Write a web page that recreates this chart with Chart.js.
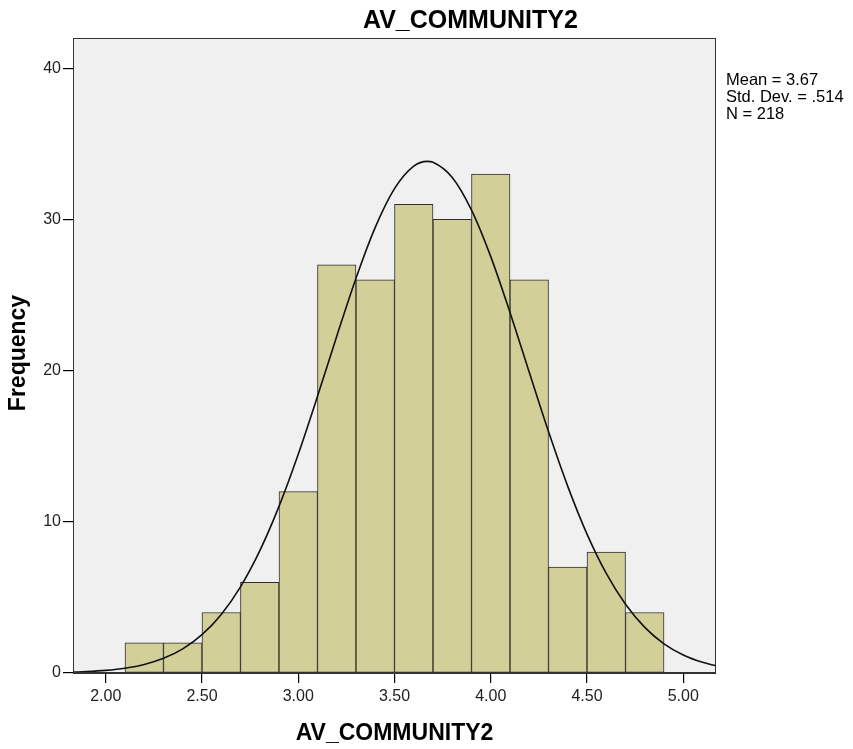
<!DOCTYPE html>
<html>
<head>
<meta charset="utf-8">
<script src="https://cdn.jsdelivr.net/npm/chart.js@4.4.1/dist/chart.umd.min.js"></script>
<style>
  html, body { margin: 0; padding: 0; background: #ffffff; }
  #wrap { width: 853px; height: 749px; position: relative; }
</style>
</head>
<body>
<div id="wrap"><canvas id="c" width="853" height="749"></canvas></div>
<script>
// ---- data ----
const chartTitle = "AV_COMMUNITY2";
const xAxisTitle = "AV_COMMUNITY2";
const yAxisTitle = "Frequency";
const statsLines = ["Mean = 3.67", "Std. Dev. = .514", "N = 218"];

const binCenters = [2.2, 2.4, 2.6, 2.8, 3.0, 3.2, 3.4, 3.6, 3.8, 4.0, 4.2, 4.4, 4.6, 4.8];
const binCounts  = [2, 2, 4, 6, 12, 27, 26, 31, 30, 33, 26, 7, 8, 4];

const curveX = [1.83, 1.9, 2.0, 2.1, 2.2, 2.3, 2.4, 2.5, 2.6, 2.7, 2.8, 2.9, 3.0, 3.1, 3.2, 3.3, 3.4, 3.5, 3.6, 3.67,
                3.7, 3.8, 3.9, 4.0, 4.1, 4.2, 4.3, 4.4, 4.5, 4.6, 4.7, 4.8, 4.9, 5.0, 5.1, 5.17];
const curveY = [0.056, 0.090, 0.173, 0.319, 0.567, 0.970, 1.599, 2.537, 3.876, 5.702, 8.078, 11.019, 14.470, 18.297,
                22.278, 26.115, 29.478, 32.039, 33.528, 33.840, 33.782, 32.775, 30.616, 27.538, 23.848, 19.886,
                15.966, 12.344, 9.188, 6.585, 4.544, 3.019, 1.932, 1.190, 0.706, 0.479];

const xTicks = [2.0, 2.5, 3.0, 3.5, 4.0, 4.5, 5.0];
const yTicks = [0, 10, 20, 30, 40];
const xMin = 1.83, xMax = 5.17;
const yMin = 0, yMax = 42;

// ---- chart ----
const FONT = "'Liberation Sans', Arial, sans-serif";

const bgPlugin = {
  id: 'plotBg',
  beforeDraw(chart) {
    const a = chart.chartArea, ctx = chart.ctx;
    ctx.save();
    ctx.fillStyle = '#f0f0f0';
    ctx.fillRect(a.left, a.top, a.right - a.left, a.bottom - a.top);
    ctx.restore();
  },
  afterDraw(chart) {
    const a = chart.chartArea, ctx = chart.ctx;
    ctx.save();
    ctx.strokeStyle = '#333333';
    ctx.lineWidth = 1;
    ctx.strokeRect(Math.round(a.left) + 0.5, Math.round(a.top) + 0.5,
                   Math.round(a.right - a.left) - 1, Math.round(a.bottom - a.top) - 1);
    const cx = (a.left + a.right) / 2;
    ctx.fillStyle = '#000000';
    ctx.textBaseline = 'alphabetic';

    ctx.font = "bold 25px " + FONT;
    ctx.textAlign = 'left';
    ctx.fillText(chartTitle, 363, 28);

    ctx.font = "bold 23px " + FONT;
    ctx.textAlign = 'center';
    ctx.fillText(xAxisTitle, cx, 740);

    ctx.save();
    ctx.translate(25, 353);
    ctx.rotate(-Math.PI / 2);
    ctx.textAlign = 'center';
    ctx.fillText(yAxisTitle, 0, 0);
    ctx.restore();

    ctx.font = "16.5px " + FONT;
    ctx.textAlign = 'left';
    ctx.textBaseline = 'middle';
    statsLines.forEach((s, i) => ctx.fillText(s, 726, 80 + i * 17));
    ctx.restore();
  }
};

new Chart(document.getElementById('c'), {
  data: {
    datasets: [
      {
        type: 'line',
        order: 0,
        data: curveX.map((x, i) => ({ x: x, y: curveY[i] })),
        borderColor: '#111111',
        borderWidth: 1.6,
        pointRadius: 0,
        cubicInterpolationMode: 'monotone',
        fill: false
      },
      {
        type: 'bar',
        order: 1,
        data: binCenters.map((x, i) => ({ x: x, y: binCounts[i] })),
        backgroundColor: '#d3cf98',
        borderColor: '#2e2e2e',
        borderWidth: 1,
        borderSkipped: false,
        barPercentage: 1.0,
        categoryPercentage: 1.0
      }
    ]
  },
  options: {
    responsive: false,
    animation: false,
    layout: { padding: { top: 38, right: 137, left: 0, bottom: 0 } },
    plugins: { legend: { display: false }, tooltip: { enabled: false }, title: { display: false } },
    scales: {
      x: {
        type: 'linear',
        offset: false,
        min: xMin, max: xMax,
        afterBuildTicks(scale) { scale.ticks = xTicks.map(v => ({ value: v })); },
        afterFit(scale) { scale.height = 76; },
        grid: { offset: false, drawOnChartArea: false, drawTicks: true, tickLength: 10, color: '#000000', lineWidth: 1.2 },
        border: { display: true, color: '#333333' },
        ticks: {
          padding: 4,
          color: '#222222',
          font: { family: FONT, size: 16 },
          maxRotation: 0,
          callback: v => Number(v).toFixed(2)
        }
      },
      y: {
        type: 'linear',
        min: yMin, max: yMax,
        afterBuildTicks(scale) { scale.ticks = yTicks.map(v => ({ value: v })); },
        afterFit(scale) { scale.width = 73; },
        grid: { drawOnChartArea: false, drawTicks: true, tickLength: 10, color: '#000000', lineWidth: 1.2 },
        border: { display: true, color: '#333333' },
        ticks: {
          padding: 2,
          color: '#222222',
          font: { family: FONT, size: 16 },
          callback: v => String(v)
        }
      }
    }
  },
  plugins: [bgPlugin]
});
</script>
</body>
</html>
